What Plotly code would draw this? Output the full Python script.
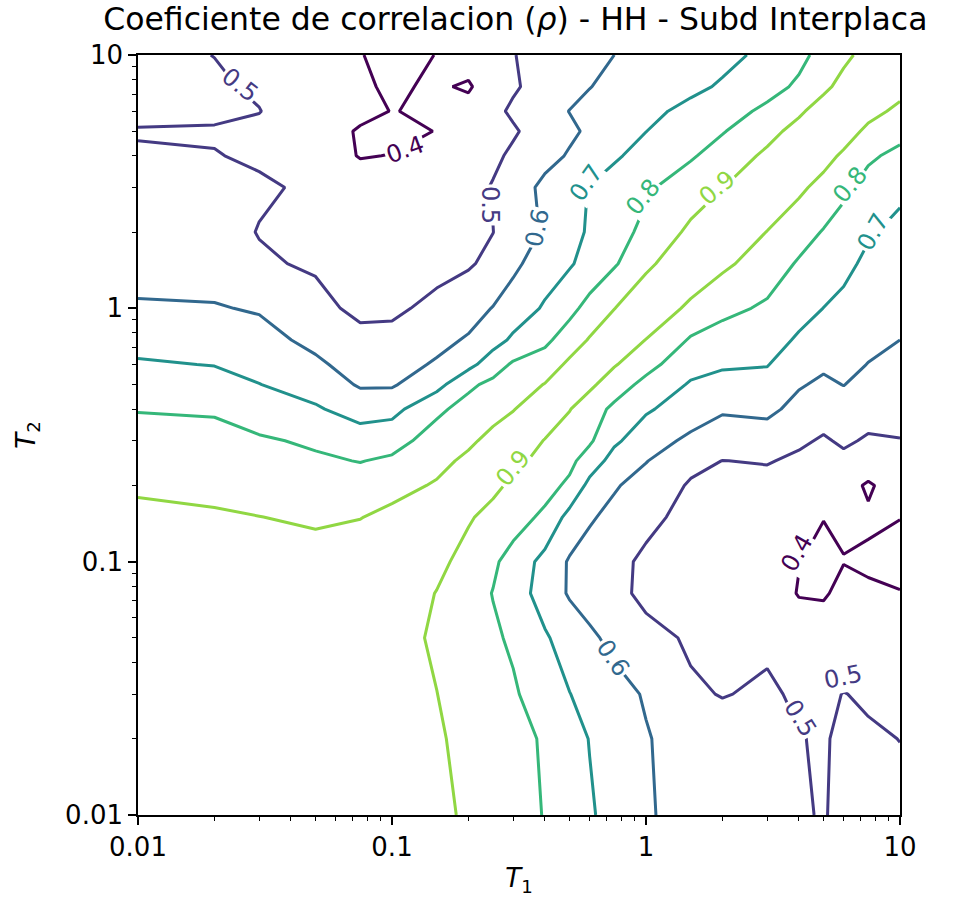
import numpy as np
import plotly.graph_objects as go

# Spectral periods (s) shared by both axes
periods = [0.01, 0.02, 0.03, 0.05, 0.075, 0.1, 0.15, 0.2, 0.25, 0.3, 0.4, 0.5,
           0.6, 0.75, 1.0, 1.5, 2.0, 3.0, 4.0, 5.0, 6.0, 7.5, 10.0]

# Correlation of each period with every longer period (upper triangle, row by row)
rho_upper = [
    [0.985, 0.975, 0.955, 0.94, 0.925, 0.908, 0.895, 0.859, 0.835, 0.796, 0.748, 0.71,
     0.669, 0.606, 0.579, 0.558, 0.529, 0.508, 0.495, 0.52, 0.52, 0.52],
    [0.985, 0.96, 0.945, 0.93, 0.91, 0.877, 0.851, 0.829, 0.79, 0.737, 0.697, 0.66,
     0.606, 0.56, 0.53, 0.515, 0.503, 0.493, 0.515, 0.51, 0.499],
    [0.97, 0.95, 0.93, 0.901, 0.864, 0.835, 0.811, 0.754, 0.702, 0.67, 0.632, 0.592,
     0.51, 0.497, 0.51, 0.49, 0.485, 0.502, 0.49, 0.48],
    [0.96, 0.932, 0.888, 0.846, 0.813, 0.787, 0.711, 0.658, 0.617, 0.576, 0.525, 0.49,
     0.475, 0.488, 0.44, 0.44, 0.45, 0.45, 0.44],
    [0.957, 0.897, 0.841, 0.797, 0.75, 0.658, 0.59, 0.56, 0.524, 0.48, 0.475, 0.46,
     0.44, 0.396, 0.392, 0.42, 0.41, 0.402],
    [0.925, 0.866, 0.815, 0.765, 0.669, 0.59, 0.561, 0.527, 0.482, 0.465, 0.45, 0.43,
     0.402, 0.38, 0.398, 0.39, 0.385],
    [0.91, 0.87, 0.841, 0.781, 0.667, 0.611, 0.573, 0.525, 0.47, 0.46, 0.44, 0.42,
     0.402, 0.41, 0.41, 0.401],
    [0.922, 0.881, 0.834, 0.782, 0.672, 0.61, 0.56, 0.49, 0.48, 0.47, 0.44, 0.41,
     0.43, 0.39, 0.44],
    [0.931, 0.863, 0.824, 0.753, 0.664, 0.604, 0.525, 0.499, 0.506, 0.483, 0.45, 0.48,
     0.45, 0.472],
    [0.893, 0.849, 0.814, 0.716, 0.648, 0.578, 0.553, 0.545, 0.515, 0.49, 0.513, 0.49,
     0.497],
    [0.904, 0.844, 0.78, 0.711, 0.655, 0.61, 0.625, 0.568, 0.541, 0.561, 0.533, 0.53],
    [0.92, 0.847, 0.773, 0.69, 0.667, 0.667, 0.609, 0.583, 0.602, 0.568, 0.554],
    [0.908, 0.832, 0.735, 0.712, 0.704, 0.645, 0.615, 0.621, 0.598, 0.575],
    [0.897, 0.79, 0.76, 0.739, 0.688, 0.652, 0.646, 0.619, 0.6],
    [0.872, 0.825, 0.786, 0.733, 0.699, 0.677, 0.645, 0.623],
    [0.92, 0.85, 0.79, 0.754, 0.724, 0.68, 0.654],
    [0.897, 0.84, 0.794, 0.76, 0.71, 0.676],
    [0.919, 0.868, 0.82, 0.767, 0.72],
    [0.934, 0.884, 0.815, 0.776],
    [0.946, 0.878, 0.83],
    [0.931, 0.878],
    [0.933],
]

levels = [0.4, 0.5, 0.6, 0.7, 0.8, 0.9]
level_colors = ["#440154", "#443a83", "#31688e", "#21918c", "#35b779", "#90d743"]

# Inline contour labels: (level, T1, T2, rotation in degrees)
label_spots = [
    (0.5, 0.0252, 7.62, 38),
    (0.4, 0.112, 4.22, -20),
    (0.5, 0.243, 2.56, 90),
    (0.6, 0.373, 2.08, -78),
    (0.7, 0.58, 3.13, -55),
    (0.8, 0.973, 2.75, -50),
    (0.9, 1.9, 2.99, -40),
    (0.8, 6.35, 3.07, -50),
    (0.7, 7.83, 2.0, -60),
    (0.9, 0.30, 0.234, -50),
    (0.6, 0.741, 0.0417, 55),
    (0.5, 4.04, 0.0241, 58),
    (0.5, 5.97, 0.035, -12),
    (0.4, 3.93, 0.108, -60),
]

# Full symmetric correlation matrix
n = len(periods)
rho = np.eye(n)
for i, row in enumerate(rho_upper):
    for k, v in enumerate(row):
        j = i + 1 + k
        rho[i, j] = v
        rho[j, i] = v

fig = go.Figure()
for lvl, col in zip(levels, level_colors):
    fig.add_trace(go.Contour(
        x=periods, y=periods, z=rho,
        autocontour=False,
        contours=dict(start=lvl, end=lvl, size=0.05, coloring="lines", showlabels=False),
        line=dict(width=3, smoothing=0),
        colorscale=[[0, col], [1, col]],
        showscale=False,
        hoverinfo="skip",
    ))

color_of = dict(zip(levels, level_colors))
for lvl, t1, t2, ang in label_spots:
    fig.add_annotation(
        x=np.log10(t1), y=np.log10(t2), xref="x", yref="y",
        text=f"{lvl:.1f}", showarrow=False, textangle=ang,
        font=dict(size=24, color=color_of[lvl], family="DejaVu Sans"),
        bgcolor="white", borderpad=1,
    )

minor_ticks = [k * 10.0 ** e for e in (-2, -1, 0) for k in range(2, 10)]

axis_common = dict(
    type="log", range=[-2, 1],
    tickvals=[0.01, 0.1, 1, 10], ticktext=["0.01", "0.1", "1", "10"],
    ticks="outside", ticklen=8, tickwidth=1.5, tickcolor="black",
    showline=True, linecolor="black", linewidth=1.6, mirror=True,
    showgrid=False, zeroline=False,
    minor=dict(tickvals=minor_ticks, ticks="outside", ticklen=4.5, tickwidth=1.1,
               tickcolor="black", showgrid=False),
    tickfont=dict(size=26, color="black", family="DejaVu Sans"),
)

fig.update_layout(
    width=976, height=906,
    margin=dict(l=138, r=76, t=55, b=91),
    plot_bgcolor="white", paper_bgcolor="white",
    font=dict(family="DejaVu Sans", color="black"),
    showlegend=False,
    title=dict(text="Coeficiente de correlacion (<i>ρ</i>) - HH - Subd Interplaca",
               x=0.528, xanchor="center", xref="container", y=0.991, yanchor="top",
               yref="container", font=dict(size=31.5, color="black")),
    xaxis=dict(axis_common, title=dict(text="<i>T</i><sub>1</sub>", font=dict(size=26),
                                       standoff=8)),
    yaxis=dict(axis_common, title=dict(text="<i>T</i><sub>2</sub>", font=dict(size=26),
                                       standoff=22)),
)

fig.write_html("out.html")
